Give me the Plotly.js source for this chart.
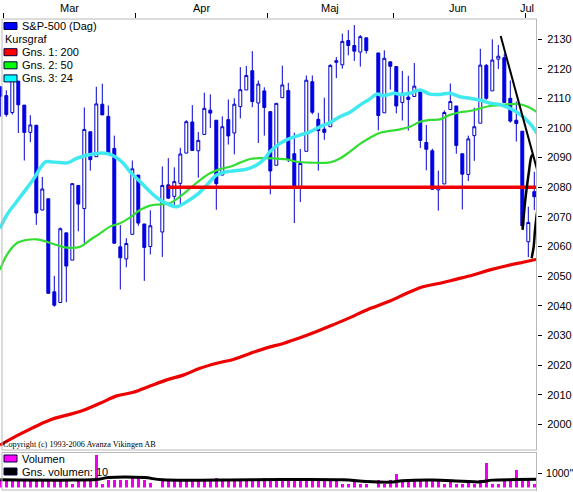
<!DOCTYPE html>
<html><head><meta charset="utf-8">
<script src="https://cdn.plot.ly/plotly-3.0.1.min.js"></script>
<style>html,body{margin:0;padding:0;background:#fff;}#chart{width:573px;height:492px;}</style>
</head><body><div id="chart"></div>
<script>
// ---- data ----
const dates = [
'2015-02-26','2015-02-27',
'2015-03-02','2015-03-03','2015-03-04','2015-03-05','2015-03-06','2015-03-09','2015-03-10','2015-03-11','2015-03-12','2015-03-13',
'2015-03-16','2015-03-17','2015-03-18','2015-03-19','2015-03-20','2015-03-23','2015-03-24','2015-03-25','2015-03-26','2015-03-27','2015-03-30','2015-03-31',
'2015-04-01','2015-04-02','2015-04-06','2015-04-07','2015-04-08','2015-04-09','2015-04-10','2015-04-13','2015-04-14','2015-04-15','2015-04-16','2015-04-17',
'2015-04-20','2015-04-21','2015-04-22','2015-04-23','2015-04-24','2015-04-27','2015-04-28','2015-04-29','2015-04-30',
'2015-05-01','2015-05-04','2015-05-05','2015-05-06','2015-05-07','2015-05-08','2015-05-11','2015-05-12','2015-05-13','2015-05-14','2015-05-15',
'2015-05-18','2015-05-19','2015-05-20','2015-05-21','2015-05-22','2015-05-26','2015-05-27','2015-05-28','2015-05-29',
'2015-06-01','2015-06-02','2015-06-03','2015-06-04','2015-06-05','2015-06-08','2015-06-09','2015-06-10','2015-06-11','2015-06-12',
'2015-06-15','2015-06-16','2015-06-17','2015-06-18','2015-06-19','2015-06-22','2015-06-23','2015-06-24','2015-06-25','2015-06-26','2015-06-29','2015-06-30',
'2015-07-01'];
const openP = [2113.9,2110.9,
2105.2,2115.8,2107.7,2098.5,2100.9,2072.3,2076.1,2044.7,2041.1,2064.6,
2055.4,2080.6,2072.8,2098.7,2090.3,2108.0,2103.9,2093.1,2059.9,2055.8,2064.1,2084.1,
2067.6,2060.0,2064.9,2080.8,2076.9,2081.3,2091.5,2102.0,2092.3,2097.8,2106.0,2102.6,
2084.1,2102.8,2098.3,2107.2,2112.8,2119.3,2108.4,2112.5,2105.5,
2087.4,2110.2,2112.6,2091.3,2080.0,2092.1,2115.6,2102.9,2099.6,2100.4,2122.1,
2121.3,2129.5,2127.8,2125.6,2130.4,2125.3,2105.1,2122.3,2120.7,
2108.6,2110.4,2110.6,2112.4,2095.1,2092.3,2079.1,2081.1,2106.2,2107.4,
2091.3,2084.3,2097.4,2101.6,2121.1,2112.5,2123.2,2123.7,2110.0,2102.6,2098.9,2061.6,
2078.5];
const highP = [2113.9,2112.7,
2117.5,2115.8,2107.7,2104.3,2100.9,2083.5,2076.1,2050.1,2066.4,2064.6,
2081.4,2080.6,2106.9,2098.7,2113.9,2114.9,2107.6,2097.4,2067.2,2062.8,2089.0,2084.1,
2067.6,2072.2,2087.0,2089.8,2086.7,2093.3,2102.6,2107.7,2098.6,2111.9,2111.3,2102.6,
2103.9,2109.6,2110.0,2120.5,2120.9,2125.9,2116.0,2113.7,2105.5,
2108.4,2121.0,2115.2,2098.4,2092.9,2117.7,2117.7,2105.1,2110.2,2121.5,2123.9,
2131.8,2133.0,2134.7,2131.3,2130.4,2125.3,2126.2,2122.3,2120.7,
2119.2,2117.6,2121.9,2112.9,2101.0,2093.0,2085.6,2105.9,2115.0,2107.4,
2091.3,2097.4,2106.8,2126.7,2121.6,2129.9,2128.0,2125.1,2116.0,2108.9,2098.9,2073.4,
2085.2];
const lowP = [2103.8,2103.8,
2104.5,2098.3,2089.0,2095.2,2067.3,2072.2,2044.2,2039.7,2041.1,2041.2,
2055.4,2065.1,2061.2,2085.6,2090.3,2104.4,2091.5,2061.1,2045.5,2053.0,2064.1,2067.0,
2048.4,2057.3,2056.5,2076.1,2073.3,2074.3,2091.5,2092.3,2083.2,2097.8,2100.0,2072.4,
2084.1,2094.4,2091.1,2103.2,2112.8,2107.0,2094.9,2097.4,2077.6,
2087.4,2110.2,2088.5,2067.9,2075.0,2092.1,2104.6,2085.6,2096.0,2100.4,2116.8,
2120.0,2124.5,2122.6,2120.7,2125.1,2099.2,2105.1,2112.9,2104.9,
2102.5,2099.1,2110.6,2093.2,2085.7,2079.1,2072.1,2081.1,2106.2,2091.3,
2072.5,2082.1,2088.9,2101.6,2109.5,2112.5,2119.9,2108.6,2101.8,2095.4,2066.0,2056.4,
2072.3];
const closeP = [2110.7,2104.5,
2117.4,2107.8,2098.5,2101.0,2071.3,2079.4,2044.2,2040.2,2066.0,2053.4,
2081.2,2074.3,2099.5,2089.3,2108.1,2104.4,2091.5,2061.1,2056.2,2061.0,2086.2,2067.9,
2059.7,2067.0,2080.6,2076.3,2081.9,2091.2,2102.1,2092.4,2095.8,2106.6,2105.0,2081.2,
2100.4,2097.3,2108.0,2112.9,2117.7,2108.9,2114.8,2106.9,2085.5,
2108.3,2114.5,2089.5,2080.2,2088.0,2116.1,2105.3,2099.1,2098.5,2121.1,2122.7,
2129.2,2127.8,2125.9,2130.8,2126.1,2104.2,2123.5,2120.8,2107.4,
2111.7,2109.6,2114.1,2095.8,2092.8,2079.3,2080.2,2105.2,2108.9,2094.1,
2084.4,2096.3,2100.4,2121.2,2110.0,2122.9,2124.2,2108.6,2102.3,2101.5,2067.0,2068.1,
2076.8];
const volume = [560,560,
550,560,550,540,560,550,580,560,550,560,
250,550,600,560,2290,250,550,560,560,540,640,640,
550,340,550,540,550,550,550,550,550,550,550,680,
550,550,550,550,550,550,550,640,550,
550,550,550,640,550,550,550,550,550,550,550,
250,250,550,250,250,550,250,550,950,
550,550,550,550,550,550,550,250,550,250,
250,550,250,550,1750,250,250,550,550,1230,560,560,
250];
const volAvgX = [-2, 10, 14, 16, 22, 25, 40, 55, 59, 63, 65, 70, 75, 78, 80, 84, 87.45];
const volAvgY = [540, 520, 560, 700, 700, 540, 550, 540, 420, 380, 470, 520, 440, 400, 520, 560, 580];

const ma200X = [-2.05,1.28,6.28,9.07,11.28,14.62,17.4,20.17,22.95,25.73,28.5,31.28,34.07,36.83,39.62,42.4,45.17,47.95,50.73,53.5,56.28,59.07,62.95,65.73,68.45,71.28,74.07,76.78,79.62,82.4,85.12,87.45];
const ma200Y = [1993.0,1996.7,2001.5,2003.1,2004.3,2007.1,2009.6,2010.8,2012.9,2015.0,2016.6,2018.9,2020.6,2021.9,2023.9,2025.8,2027.3,2029.2,2031.3,2033.6,2036.0,2038.6,2041.6,2044.2,2046.4,2047.6,2049.0,2050.4,2052.1,2053.5,2054.7,2055.7];
const ma50X = [-2.05,-0.93,0.73,2.4,4.07,5.73,7.4,9.07,11.28,12.95,14.62,16.28,17.95,19.62,21.28,22.95,24.62,26.28,27.95,29.62,31.28,32.95,34.62,36.28,37.95,39.62,41.28,43.5,45.73,47.4,49.62,52.95,54.62,56.28,57.95,59.62,61.28,62.95,64.62,66.28,67.95,69.62,71.28,72.95,74.62,76.28,77.95,79.62,81.28,82.95,84.62,86.28,87.45];
const ma50Y = [2052.1,2057.1,2061.1,2062.2,2062.4,2061.6,2060.5,2059.6,2059.9,2062.2,2064.4,2066.7,2067.8,2069.8,2072.3,2073.8,2074.2,2074.6,2076.8,2079.6,2082.4,2084.7,2086.1,2086.9,2088.3,2089.5,2089.8,2089.7,2089.4,2088.6,2088.3,2088.4,2089.7,2092.0,2094.6,2096.7,2098.4,2099.0,2099.5,2100.4,2102.1,2102.7,2102.9,2104.4,2105.3,2105.7,2106.6,2107.4,2107.7,2108.0,2108.0,2106.8,2105.3];
const ma24X = [-2.05,-0.93,0.73,2.4,3.78,4.62,5.62,6.28,7.95,9.33,10.73,12.4,14.07,15.73,17.12,18.5,19.62,21.28,22.95,24.62,26.28,27.4,29.07,30.73,32.4,34.07,35.73,37.4,39.07,40.73,42.12,42.95,44.62,46.28,47.95,49.62,51.28,52.95,54.62,56.28,57.95,59.62,60.73,61.83,63.78,64.62,66.28,67.95,69.62,71.28,72.95,74.62,76.28,77.95,79.62,81.28,82.95,84.62,86.28,87.45];
const ma24Y = [2066.1,2070.6,2075.1,2079.6,2083.5,2086.4,2088.6,2088.6,2088.3,2088.3,2089.7,2090.8,2091.4,2091.4,2090.3,2088.1,2085.2,2081.9,2078.5,2075.7,2074.0,2073.4,2075.1,2077.4,2080.7,2084.1,2085.2,2085.6,2086.1,2087.5,2089.8,2092.0,2094.8,2096.5,2097.6,2098.7,2100.4,2101.8,2103.8,2105.3,2107.7,2109.8,2111.4,2110.9,2111.7,2111.3,2111.7,2112.8,2111.4,2111.3,2111.7,2110.5,2110.0,2109.4,2108.3,2107.9,2106.6,2104.6,2101.5,2098.2];

const supportX = [26.0, 87.45];
const supportY = [2080, 2080];
const trendX = [81.4, 87.45];
const trendY = [2131, 2086];
const arcAX = [85.05, 85.5, 86.07, 86.5, 86.73];
const arcAY = [2065.6, 2075.7, 2084.7, 2090.3, 2091.0];
const arcBX = [86.55, 86.9, 87.12, 87.45];
const arcBY = [2056.0, 2060.0, 2065.6, 2071.5];

const monthLabels = ['Mar','Apr','Maj','Jun','Jul'];
const monthLabelX = [9.45, 31.45, 52.95, 74.3, 85.8];
const monthTickX = [-1.5, 20.5, 42.5, 63.5, 85.5];
const priceTicks = [2000,2010,2020,2030,2040,2050,2060,2070,2080,2090,2100,2110,2120,2130];
const volTicks = [1000];
const volTickText = ['1000"'];
const legendMain = [
  {text:'S&P-500 (Dag)', color:'#0000ff'},
  {text:'Kursgraf', color:null},
  {text:'Gns. 1: 200', color:'#ff0000'},
  {text:'Gns. 2: 50', color:'#00ff00'},
  {text:'Gns. 3: 24', color:'#00ffff'}];
const legendVol = [
  {text:'Volumen', color:'#ff00ff'},
  {text:'Gns. volumen: 10', color:'#000000'}];
const copyrightText = 'Copyright (c) 1993-2006 Avanza Vikingen AB';

// ---- positions ----
const base = Date.UTC(2015,2,2);
function wdIndex(s){
  const p = s.split('-').map(Number);
  const t = Date.UTC(p[0],p[1]-1,p[2]);
  let n = 0;
  if (t >= base){ for(let d=base; d<t; d+=86400000){ const w=new Date(d).getUTCDay(); if(w!==0&&w!==6) n++; } }
  else { for(let d=t; d<base; d+=86400000){ const w=new Date(d).getUTCDay(); if(w!==0&&w!==6) n--; } }
  return n;
}
const xi = dates.map(wdIndex);

const W=573, H=492, L=0, R=36, T=19, B=1;
const PW = W-L-R, PH = H-T-B;
const px = x => (x-L)/PW;
const py = y => (H-B-y)/PH;
const xr = [-2.05, 87.45];

const candleBlue = '#0000d0';
const traces = [
 {type:'candlestick', x:xi, open:openP, high:highP, low:lowP, close:closeP, xaxis:'x', yaxis:'y',
  increasing:{line:{color:candleBlue,width:1}, fillcolor:'#ffffff'},
  decreasing:{line:{color:candleBlue,width:1}, fillcolor:'#0000f0'},
  whiskerwidth:0, hoverinfo:'skip'},
 {type:'scatter', mode:'lines', x:ma200X, y:ma200Y, line:{color:'#ee0000', width:3.2, shape:'spline'}, xaxis:'x', yaxis:'y', hoverinfo:'skip'},
 {type:'scatter', mode:'lines', x:ma50X, y:ma50Y, line:{color:'#33dd33', width:2.2, shape:'spline'}, xaxis:'x', yaxis:'y', hoverinfo:'skip'},
 {type:'scatter', mode:'lines', x:ma24X, y:ma24Y, line:{color:'#40e8f0', width:3.5, shape:'spline'}, xaxis:'x', yaxis:'y', hoverinfo:'skip'},
 {type:'scatter', mode:'lines', x:supportX, y:supportY, line:{color:'#ee0000', width:3.5}, xaxis:'x', yaxis:'y', hoverinfo:'skip'},
 {type:'scatter', mode:'lines', x:trendX, y:trendY, line:{color:'#000000', width:2}, xaxis:'x', yaxis:'y', hoverinfo:'skip'},
 {type:'scatter', mode:'lines', x:arcAX, y:arcAY, line:{color:'#000000', width:2.5, shape:'spline'}, xaxis:'x', yaxis:'y', hoverinfo:'skip'},
 {type:'scatter', mode:'lines', x:arcBX, y:arcBY, line:{color:'#000000', width:2.5, shape:'spline'}, xaxis:'x', yaxis:'y', hoverinfo:'skip'},
 {type:'bar', x:xi, y:volume, marker:{color:'#ee00ee', line:{width:0}}, width:0.5, xaxis:'x2', yaxis:'y2', hoverinfo:'skip'},
 {type:'scatter', mode:'lines', x:volAvgX, y:volAvgY, line:{color:'#000000', width:3, shape:'spline'}, xaxis:'x2', yaxis:'y2', hoverinfo:'skip'}
];

const gray = '#b8b8b8';
const shapes = [
 {type:'line', xref:'paper', yref:'paper', x0:px(2), x1:px(2), y0:py(450), y1:py(19), line:{color:gray,width:1}},
 {type:'line', xref:'paper', yref:'paper', x0:px(2), x1:px(537), y0:py(19), y1:py(19), line:{color:gray,width:1}},
 {type:'line', xref:'paper', yref:'paper', x0:px(536.5), x1:px(536.5), y0:py(450), y1:py(19), line:{color:gray,width:1}},
 {type:'line', xref:'paper', yref:'paper', x0:px(2), x1:px(537), y0:py(450), y1:py(450), line:{color:gray,width:1}},
 {type:'line', xref:'paper', yref:'paper', x0:px(2), x1:px(537), y0:py(452.5), y1:py(452.5), line:{color:gray,width:1}},
 {type:'line', xref:'paper', yref:'paper', x0:px(536.5), x1:px(536.5), y0:py(491), y1:py(452.5), line:{color:gray,width:1}},
 {type:'line', xref:'paper', yref:'paper', x0:px(2), x1:px(2), y0:py(490), y1:py(452.5), line:{color:gray,width:1}},
 {type:'line', xref:'paper', yref:'paper', x0:px(2), x1:px(537), y0:py(490), y1:py(490), line:{color:gray,width:1}}
];
const annotations = [];
const legFont = {family:'Liberation Sans, Arial, sans-serif', size:11, color:'#000'};
function addLegend(items, y0, step){
  items.forEach((it,i)=>{
    const yc = y0 + i*step;
    if (it.color){
      shapes.push({type:'rect', xref:'paper', yref:'paper', x0:px(4), x1:px(17), y0:py(yc+3.5), y1:py(yc-3.5),
        fillcolor:it.color, line:{color:'#000040', width:1}});
    }
    annotations.push({xref:'paper', yref:'paper', x:px(it.color?20:3), y:py(yc), xanchor:'left', yanchor:'middle',
      text:it.text, showarrow:false, font:legFont, align:'left'});
  });
}
addLegend(legendMain, 26, 13.1);
addLegend(legendVol, 458.5, 13);
monthLabels.forEach((m,i)=>annotations.push({xref:'x', yref:'paper', x:monthLabelX[i], y:py(8), xanchor:'center', yanchor:'middle',
  text:m, showarrow:false, font:legFont}));
annotations.push({xref:'paper', yref:'paper', x:px(1), y:py(444), xanchor:'left', yanchor:'middle', text:copyrightText,
  showarrow:false, font:{family:'Liberation Serif, Times New Roman, serif', size:8.2, color:'#000'}});

const volBase = 487.5, volTop = 452.5, volTickPx = 473.3;
const volRangeTop = volTicks[0] * (volBase - volTop) / (volBase - volTickPx);

const layout = {
  width:W, height:H, margin:{l:L, r:R, t:T, b:B, pad:0},
  paper_bgcolor:'#ffffff', plot_bgcolor:'#ffffff', showlegend:false,
  font:legFont, bargap:0,
  xaxis:{domain:[0,1], range:xr, anchor:'y', side:'top', tickmode:'array', tickvals:monthTickX, ticktext:monthTickX.map(()=>''),
    ticks:'outside', ticklen:5, tickcolor:'#000', tickwidth:1, showgrid:false, zeroline:false, showline:false, rangeslider:{visible:false}, fixedrange:true},
  yaxis:{domain:[py(450),1], range:[1991.34,2136.75], side:'right', tickmode:'array', tickvals:priceTicks,
    ticks:'outside', ticklen:4, tickcolor:'#000', showgrid:false, zeroline:false, showline:false, ticklabelstandoff:3, fixedrange:true,
    tickfont:legFont},
  xaxis2:{domain:[0,1], range:xr, anchor:'y2', showticklabels:false, ticks:'', showgrid:false, zeroline:false, showline:false, rangeslider:{visible:false}},
  yaxis2:{domain:[py(volBase),py(volTop)], range:[0,volRangeTop], side:'right', tickmode:'array', tickvals:volTicks, ticktext:volTickText,
    ticks:'outside', ticklen:4, tickcolor:'#000', showgrid:false, zeroline:false, showline:false, ticklabelstandoff:2,
    tickfont:{family:'Liberation Sans, Arial, sans-serif', size:10.5, color:'#000'}},
  shapes:shapes, annotations:annotations
};
Plotly.newPlot('chart', traces, layout, {staticPlot:true, displayModeBar:false});
</script>
</body></html>
